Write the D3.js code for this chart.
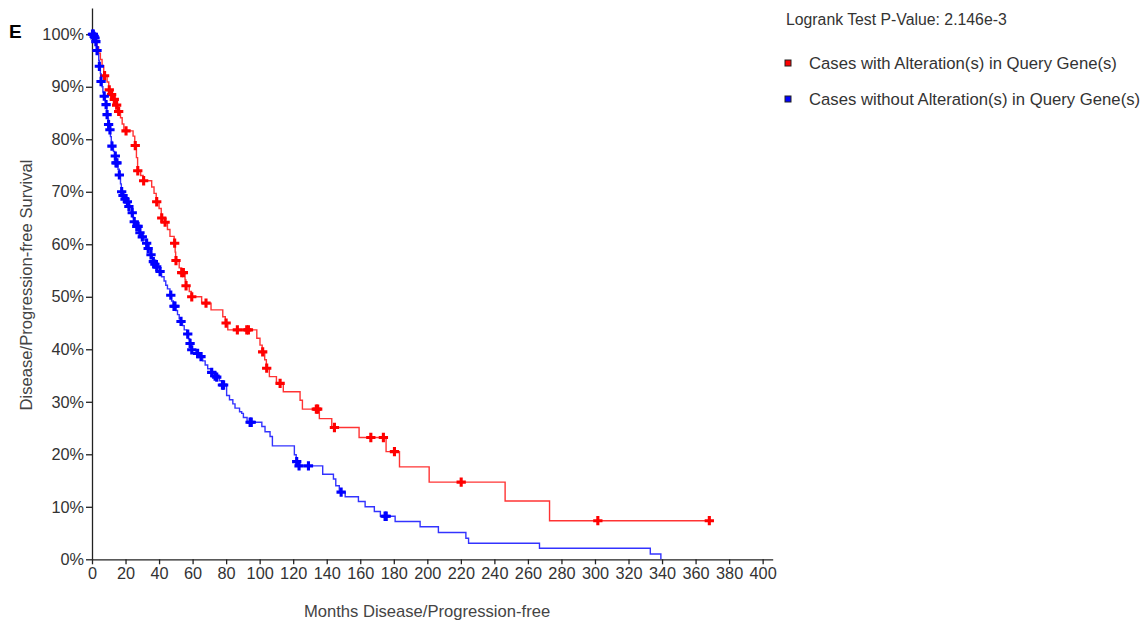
<!DOCTYPE html>
<html>
<head>
<meta charset="utf-8">
<script src="https://cdnjs.cloudflare.com/ajax/libs/d3/7.8.5/d3.min.js"></script>
<style>
  body { margin: 0; background: #fff; }
  svg { display: block; font-family: Arial, "Liberation Sans", sans-serif; }
</style>
</head>
<body>
<svg id="chart" width="1148" height="623"></svg>
<script>
/* globals d3 */

// Cases with alteration: [months, survival %] after each drop (last point = last follow-up)
var alteredSteps = [
  [0, 100], [2, 98.8], [3, 97.6], [4, 96.4], [5, 95.2], [6, 94], [7, 92.1],
  [9, 90.9], [10, 89.4], [11.5, 88.5], [13, 87.6], [14.5, 86.5], [15.5, 85.3],
  [17, 84.1], [18, 82.9], [19, 81.6], [24.5, 80.6], [25.5, 78.8], [26.5, 76.5],
  [27.2, 74.0], [29, 73.1], [30.5, 72.1], [35.6, 70.9], [37, 69.7], [38.3, 68.1],
  [40, 66.8], [41.3, 65.0], [43.3, 64.2], [45, 62.8], [46.5, 61.5], [49, 60.2],
  [49.6, 58.5], [49.9, 56.9], [52, 55.5], [53.5, 54.6], [55.5, 53.2], [56, 52.1],
  [58, 51.0], [59.3, 50.0], [65.4, 48.8], [71, 47.5], [78, 46.2], [79.5, 45.0],
  [81, 43.7], [98.3, 42.1], [100.2, 40.8], [101.5, 39.5], [103, 38.0], [104, 36.4],
  [105.8, 34.8], [110, 33.5], [114.1, 31.9], [124.1, 30.3], [125.5, 28.6],
  [135.6, 26.8], [143, 25.1], [159.3, 23.2], [175.4, 20.5], [183.4, 17.6],
  [201.1, 14.7], [246.4, 11.1], [272.9, 7.35], [369, 7.35]
];
var alteredCensored = [
  [7.5, 92.1], [10.3, 89.4], [11.7, 88.5], [13.3, 87.6], [14.7, 86.5], [15.9, 85.3],
  [20.3, 81.6], [25.8, 78.8], [27.3, 74.0], [30.8, 72.1], [38.6, 68.1], [41.6, 65.0],
  [43.6, 64.2], [49.3, 60.2], [50.1, 56.9], [53.5, 54.6], [54.5, 54.6], [56.1, 52.1],
  [59.5, 50.0], [68, 48.8], [80, 45.0], [86.7, 43.7], [92.3, 43.7], [93.3, 43.7],
  [101.8, 39.5], [104.2, 36.4], [112.2, 33.5], [133.8, 28.6], [134.6, 28.6],
  [144.6, 25.1], [166.3, 23.2], [173.8, 23.2], [180.4, 20.5], [220.2, 14.7],
  [301.7, 7.35], [368.2, 7.35]
];

// Cases without alteration
var unalteredSteps = [
  [0, 100], [1.5, 99.3], [2.2, 98.6], [2.8, 97.6], [3.5, 96.2], [4, 95], [4.4, 93.9],
  [5, 92.5], [5.4, 91], [6, 90], [6.5, 89], [7.2, 88.2], [8, 87.2], [8.4, 86.6],
  [8.8, 85.5], [9, 84.7], [9.5, 83.8], [9.9, 82.8], [10.5, 81.8], [11, 80.5],
  [11.5, 79.6], [11.9, 78.7], [12.8, 77.7], [13.5, 76.8], [14.2, 75.5], [15.5, 74.3],
  [16.3, 73.2], [17, 71.5], [17.5, 70.0], [18.5, 69.3], [19.5, 68.6], [21, 68.1],
  [22, 67.2], [23.5, 66.0], [24.5, 65.1], [25.2, 64.3], [26.2, 63.4], [28, 62.2],
  [29.5, 61.4], [31, 60.8], [32.4, 60.2], [33.5, 59.2], [35, 58.0], [36, 57.3],
  [36.5, 56.7], [37.5, 56.2], [38.5, 55.7], [40.2, 54.8], [41.5, 53.8], [43, 53],
  [44, 52.2], [45, 51.5], [46.5, 50.3], [47.5, 49.2], [48.5, 48.2], [50, 47.4],
  [51, 46.6], [52, 45.8], [53, 45.3], [54, 44.5], [55, 43.7], [56.5, 42.9],
  [57.5, 42.0], [58.3, 41.1], [59.3, 39.9], [62, 39.2], [64.5, 38.6], [66, 37.8],
  [67.5, 37.0], [69, 36.3], [71, 35.6], [73, 34.9], [74, 34.7], [76, 34.0],
  [77.5, 33.2], [80.3, 31.2], [82, 30.4], [84, 29.6], [85.3, 28.8], [88, 28.1],
  [89.3, 27.8], [90.3, 27.0], [92.5, 26.1], [101.3, 25.3], [103.2, 24.3],
  [106.2, 23.4], [107.6, 21.6], [120.7, 19.9], [121.8, 18.6], [123, 17.8],
  [137.6, 16.2], [144, 15.3], [145.4, 14.0], [147.5, 12.8], [151, 11.9],
  [158.9, 11.0], [162.9, 10.0], [168.4, 9.1], [172, 8.2], [180.8, 7.2],
  [195.7, 6.2], [206.6, 5.1], [223, 4.0], [224.6, 3.05], [266.9, 2.1],
  [333, 1.0], [339.3, 0]
];
var unalteredCensored = [
  [0.3, 100], [0.8, 100], [1.3, 99.6], [1.8, 99.3], [2.3, 98.6], [3, 96.9],
  [4.4, 93.9], [5.4, 91.0], [7.3, 88.2], [8.4, 86.6], [9, 84.7], [9.9, 82.8],
  [10.7, 81.8], [11.9, 78.7], [13.9, 76.8], [14.3, 75.5], [14.9, 75.5], [16.3, 73.2],
  [17.7, 70.0], [18.5, 69.3], [19.7, 68.6], [21.1, 68.1], [22, 67.2], [24.0, 66.0],
  [25.2, 64.3], [26.7, 63.4], [27.5, 63.4], [28.6, 62.2], [30, 61.4], [32.6, 60.2],
  [33.5, 59.2], [35.2, 58.0], [36.6, 56.7], [37.5, 56.2], [38.6, 55.7], [40.6, 54.8],
  [47.0, 50.3], [48.9, 48.2], [49.5, 48.2], [53.1, 45.3], [57.1, 42.9], [58.5, 41.1],
  [59.5, 39.9], [63, 39.2], [65, 38.6], [71.4, 35.6], [73.4, 34.9], [74.4, 34.7],
  [77.8, 33.2], [78.5, 33.2], [94.3, 26.1], [95, 26.1], [122.1, 18.6], [123.5, 17.8],
  [129.1, 17.8], [148.6, 12.8], [174.8, 8.2], [175.5, 8.2]
];

var xTickValues = [0, 20, 40, 60, 80, 100, 120, 140, 160, 180, 200, 220, 240, 260,
  280, 300, 320, 340, 360, 380, 400];
var yTickValues = [0, 10, 20, 30, 40, 50, 60, 70, 80, 90, 100];

var seriesNames = ['Cases with Alteration(s) in Query Gene(s)',
  'Cases without Alteration(s) in Query Gene(s)'];
var seriesColors = ['#ff0000', '#0000ff'];
var pValueText = 'Logrank Test P-Value: 2.146e-3';
var xTitle = 'Months Disease/Progression-free';
var yTitle = 'Disease/Progression-free Survival';

var svg = d3.select('#chart');

// plot box in pixels
var plotLeft = 92, plotRight = 772.7, plotTop = 8, plotBottom = 559.3;

var x = d3.scaleLinear().domain([0, 406]).range([plotLeft, plotRight]);
var y = d3.scaleLinear().domain([0, 105]).range([plotBottom, plotTop]);

// Axes
var xAxis = svg.append('g')
  .attr('transform', 'translate(0,' + plotBottom + ')')
  .call(d3.axisBottom(x).tickValues(xTickValues).tickSize(5).tickSizeOuter(0));

var yAxis = svg.append('g')
  .attr('transform', 'translate(' + plotLeft + ',0)')
  .call(d3.axisLeft(y).tickValues(yTickValues).tickSize(6).tickSizeOuter(0)
    .tickFormat(function (d) { return d + '%'; }));

[xAxis, yAxis].forEach(function (g) {
  g.selectAll('path, line').attr('stroke', '#222').attr('stroke-width', 1.3);
  g.selectAll('text')
    .attr('fill', '#333')
    .style('font-size', '16.3px')
    .style('font-family', 'Arial, "Liberation Sans", sans-serif');
});
yAxis.selectAll('text').attr('x', -8);

// Axis titles
svg.append('text')
  .attr('x', 427).attr('y', 617)
  .attr('text-anchor', 'middle')
  .attr('fill', '#444').style('font-size', '16.6px')
  .text(xTitle);

svg.append('text')
  .attr('transform', 'translate(32,285) rotate(-90)')
  .attr('text-anchor', 'middle')
  .attr('fill', '#444').style('font-size', '16.6px')
  .text(yTitle);

// Panel letter
svg.append('text')
  .attr('x', 9).attr('y', 38)
  .attr('fill', '#000').style('font-size', '19px').style('font-weight', 'bold')
  .text('E');

// Curves
var line = d3.line()
  .curve(d3.curveStepAfter)
  .x(function (d) { return x(d[0]); })
  .y(function (d) { return y(d[1]); });

var cross = d3.symbol().type(d3.symbolCross).size(48);

var curves = [
  { steps: alteredSteps, censored: alteredCensored, color: seriesColors[0] },
  { steps: unalteredSteps, censored: unalteredCensored, color: seriesColors[1] }
];

curves.forEach(function (c) {
  svg.append('path')
    .datum(c.steps)
    .attr('d', line)
    .attr('fill', 'none')
    .attr('stroke', c.color)
    .attr('stroke-opacity', 0.8)
    .attr('stroke-width', 1.4);

  svg.append('g').selectAll('path')
    .data(c.censored)
    .enter().append('path')
    .attr('d', cross)
    .attr('transform', function (d) {
      return 'translate(' + x(d[0]) + ',' + y(d[1]) + ')';
    })
    .attr('fill', c.color);
});

// Legend
svg.append('text')
  .attr('x', 786).attr('y', 25)
  .attr('fill', '#333').style('font-size', '15.8px')
  .text(pValueText);

var legend = svg.append('g').selectAll('g')
  .data(seriesNames)
  .enter().append('g')
  .attr('transform', function (d, i) { return 'translate(785,' + (63 + i * 36) + ')'; });

legend.append('rect')
  .attr('x', 0).attr('y', -3)
  .attr('width', 6).attr('height', 6)
  .attr('fill', function (d, i) { return seriesColors[i]; })
  .attr('stroke', '#222').attr('stroke-width', 1);

legend.append('text')
  .attr('x', 24).attr('y', 6)
  .attr('fill', '#333').style('font-size', '16.7px')
  .text(function (d) { return d; });
</script>
</body>
</html>
